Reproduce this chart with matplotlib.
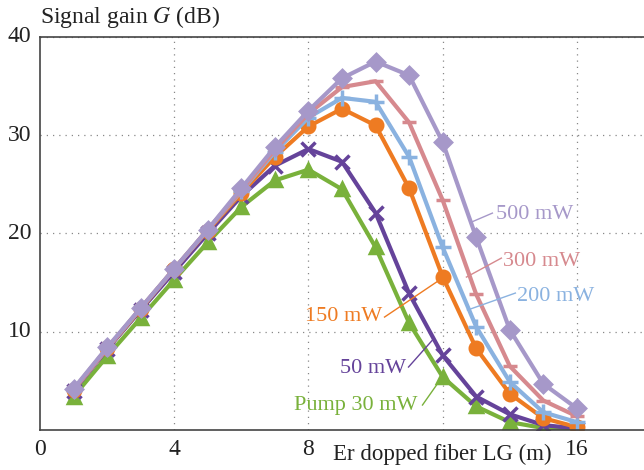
import matplotlib
matplotlib.use("Agg")
import matplotlib.pyplot as plt

plt.rcParams['font.family'] = ['Liberation Serif', 'DejaVu Serif']
plt.rcParams['mathtext.fontset'] = 'stix'

length_m = [1, 2, 3, 4, 5, 6, 7, 8, 9, 10, 11, 12, 13, 14, 15, 16]

gain_30 = [3.4, 7.5, 11.4, 15.3, 19.1, 22.7, 25.4, 26.5, 24.5, 18.6, 10.9, 5.4, 2.4, 0.8, 0.2, 0.05]
gain_50 = [4.0, 8.2, 12.2, 16.1, 20.0, 23.8, 26.9, 28.6, 27.3, 22.1, 13.9, 7.6, 3.4, 1.6, 0.5, 0.15]
gain_150 = [4.1, 8.3, 12.3, 16.4, 20.3, 24.1, 27.8, 30.9, 32.7, 31.0, 24.6, 15.6, 8.3, 3.7, 1.2, 0.3]
gain_200 = [4.1, 8.3, 12.4, 16.4, 20.4, 24.3, 28.3, 31.8, 33.8, 33.4, 27.8, 18.6, 10.5, 4.9, 1.8, 0.8]
gain_300 = [4.1, 8.3, 12.4, 16.4, 20.4, 24.4, 28.5, 32.2, 34.9, 35.5, 31.3, 23.4, 13.8, 6.5, 3.0, 1.4]
gain_500 = [4.2, 8.4, 12.4, 16.4, 20.4, 24.6, 28.8, 32.5, 35.8, 37.5, 36.1, 29.3, 19.6, 10.2, 4.7, 2.2]

labels = ['Pump 30 mW', '50 mW', '150 mW', '200 mW', '300 mW', '500 mW']
series = [gain_30, gain_50, gain_150, gain_200, gain_300, gain_500]
colors = ['#79b13b', '#65439a', '#ee7b22', '#8ab2e0', '#d6898e', '#a698c9']
markers = ['^', 'x', 'o', '+', '_', 'D']
msizes = [9, 10, 9, 12, 10, 8]

x_ticks = [0, 4, 8, 16]
y_ticks = [10, 20, 30, 40]

fig = plt.figure(figsize=(6.44, 4.70), dpi=100)
ax = fig.add_axes([0.0621, 0.0851, 0.9379, 0.8362])

for y, c, m, ms in zip(series, colors, markers, msizes):
    ax.plot(length_m, y, color=c, lw=3.0, marker=m, ms=ms, mew=2.5,
            mfc=c, mec=c, solid_capstyle='round', solid_joinstyle='round')

ax.set_xlim(0, 18)
ax.set_ylim(0, 40)
ax.set_xticks([4, 8, 12, 16], minor=False)
ax.set_xticklabels([])
ax.set_yticks([10, 20, 30, 40])
ax.set_yticklabels([])
ax.grid(True, linestyle=(0, (1, 4)), color='#888888', lw=0.9)
ax.tick_params(length=0)
ax.spines['right'].set_visible(False)
for s in ['left', 'top', 'bottom']:
    ax.spines[s].set_color('#444444')
    ax.spines[s].set_linewidth(1.2)

# tick labels as texts
for t in x_ticks:
    ax.text(t, -2.0, str(t), ha='center', va='center', fontsize=17, color='#222222')
for t in y_ticks:
    ax.text(-0.25, t, str(t), ha='right', va='center', fontsize=17, color='#222222')

fig.text(40 / 644, 1 - 17 / 470, 'Signal gain $\\mathit{G}$ (dB)', ha='left', va='center',
         fontsize=17, color='#222222')
ax.text(12, -2.45, 'Er dopped fiber LG (m)', ha='center', va='center', fontsize=16.5,
        color='#222222')

# annotations: (text, text x,y, line start x,y, line end x,y)
def px2d(px, py):
    return ((px - 40) / 33.6, (430 - py) / 9.83)

ann = [
    ('500 mW', (497, 214), (493, 213), (472, 222), colors[5], 'left'),
    ('300 mW', (504, 261), (502, 258), (467, 277), colors[4], 'left'),
    ('200 mW', (518, 296), (516, 293), (468, 310), colors[3], 'left'),
    ('150 mW', (383, 316), (385, 317), (440, 280), colors[2], 'right'),
    ('50 mW', (407, 368), (409, 367), (433, 340), colors[1], 'right'),
    ('Pump 30 mW', (418, 405), (423, 405), (442, 378), colors[0], 'right'),
]
for txt, tp, l0, l1, c, ha in ann:
    tx, ty = px2d(*tp)
    ax.text(tx, ty, txt, color=c, fontsize=16, ha=ha, va='center')
    a0 = px2d(*l0)
    a1 = px2d(*l1)
    ax.plot([a0[0], a1[0]], [a0[1], a1[1]], color=c, lw=1.0, clip_on=False)

fig.savefig('out.png', dpi=100)
